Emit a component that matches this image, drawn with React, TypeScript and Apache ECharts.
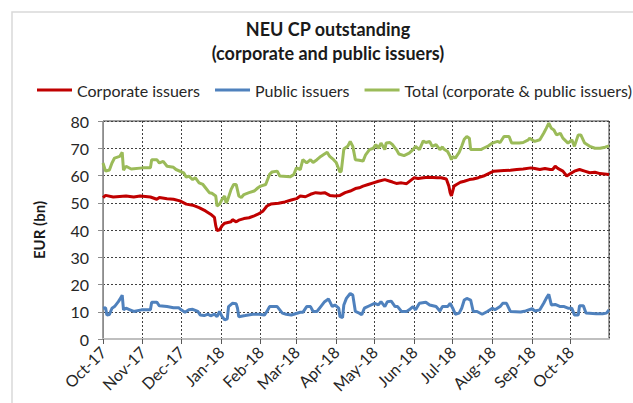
import React, { useEffect, useRef } from 'react';
import * as echarts from 'echarts';

const titleLines = ['NEU CP outstanding', '(corporate and public issuers)'];
const seriesNames = ['Corporate issuers', 'Public issuers', 'Total (corporate & public issuers)'];
const seriesColors = ['#C00000', '#4F81BD', '#9BBB59'];
const monthAbbr = ['Jan', 'Feb', 'Mar', 'Apr', 'May', 'Jun', 'Jul', 'Aug', 'Sep', 'Oct', 'Nov', 'Dec'];
const yAxisName = 'EUR (bn)';
const xMin = '2017-10-01';
const xMax = '2018-10-31';
const yMin = 0;
const yMax = 80;
const yStep = 10;

const corporate: [string, number][] = [
  ['2017-10-01', 51.9], ['2017-10-03', 52.7], ['2017-10-09', 52.1], ['2017-10-19', 52.5], ['2017-10-25', 52.1],
  ['2017-10-30', 52.5], ['2017-11-07', 52.1], ['2017-11-12', 51.3], ['2017-11-14', 51.9], ['2017-11-20', 51.5],
  ['2017-11-25', 51.3], ['2017-11-30', 50.7], ['2017-12-05', 49.5], ['2017-12-10', 49.1], ['2017-12-15', 48.2],
  ['2017-12-20', 47.0], ['2017-12-24', 45.8], ['2017-12-27', 44.6], ['2017-12-28', 41.6], ['2017-12-29', 39.8],
  ['2017-12-31', 40.1], ['2018-01-02', 41.6], ['2018-01-04', 42.5], ['2018-01-09', 43.0], ['2018-01-10', 43.8],
  ['2018-01-13', 43.0], ['2018-01-15', 43.6], ['2018-01-19', 44.2], ['2018-01-23', 44.5], ['2018-01-27', 45.2],
  ['2018-01-30', 45.8], ['2018-02-03', 47.0], ['2018-02-06', 48.8], ['2018-02-09', 49.5], ['2018-02-15', 49.8],
  ['2018-02-20', 50.3], ['2018-02-25', 51.0], ['2018-03-01', 51.5], ['2018-03-04', 52.5], ['2018-03-08', 52.2],
  ['2018-03-12', 53.1], ['2018-03-16', 53.7], ['2018-03-20', 53.5], ['2018-03-23', 53.7], ['2018-03-27', 52.7],
  ['2018-03-31', 52.5], ['2018-04-04', 52.7], ['2018-04-08', 53.7], ['2018-04-12', 54.3], ['2018-04-16', 55.2],
  ['2018-04-19', 55.5], ['2018-04-22', 56.1], ['2018-04-26', 56.7], ['2018-04-30', 57.3], ['2018-05-04', 57.9],
  ['2018-05-09', 58.5], ['2018-05-13', 57.9], ['2018-05-15', 57.6], ['2018-05-18', 57.1], ['2018-05-22', 57.3],
  ['2018-05-26', 57.0], ['2018-05-30', 58.5], ['2018-06-01', 59.2], ['2018-06-04', 58.9], ['2018-06-08', 59.2],
  ['2018-06-12', 59.4], ['2018-06-19', 59.2], ['2018-06-22', 59.2], ['2018-06-26', 58.7], ['2018-06-28', 56.1],
  ['2018-06-29', 53.7], ['2018-06-30', 52.5], ['2018-07-01', 54.3], ['2018-07-02', 56.1], ['2018-07-04', 56.7],
  ['2018-07-07', 57.5], ['2018-07-10', 57.9], ['2018-07-14', 58.5], ['2018-07-17', 58.7], ['2018-07-21', 59.2],
  ['2018-07-25', 59.8], ['2018-07-29', 60.7], ['2018-08-02', 61.6], ['2018-08-10', 61.8], ['2018-08-15', 61.9],
  ['2018-08-20', 62.2], ['2018-08-25', 62.4], ['2018-08-31', 62.8], ['2018-09-03', 62.6], ['2018-09-07', 62.2],
  ['2018-09-11', 62.6], ['2018-09-15', 62.2], ['2018-09-17', 62.2], ['2018-09-19', 63.4], ['2018-09-21', 62.6],
  ['2018-09-25', 61.6], ['2018-09-28', 59.8], ['2018-10-01', 60.7], ['2018-10-04', 61.6], ['2018-10-08', 62.2],
  ['2018-10-12', 61.6], ['2018-10-16', 61.0], ['2018-10-20', 61.2], ['2018-10-24', 60.7], ['2018-10-31', 60.4],
];

const publicIssuers: [string, number][] = [
  ['2017-10-01', 11.3], ['2017-10-03', 11.5], ['2017-10-04', 8.8], ['2017-10-06', 9.0], ['2017-10-08', 11.3],
  ['2017-10-10', 11.9], ['2017-10-13', 13.7], ['2017-10-15', 15.2], ['2017-10-16', 16.1], ['2017-10-17', 10.7],
  ['2017-10-19', 11.3], ['2017-10-22', 10.7], ['2017-10-25', 10.1], ['2017-10-31', 10.7], ['2017-11-07', 10.7],
  ['2017-11-08', 13.5], ['2017-11-12', 13.5], ['2017-11-14', 12.2], ['2017-11-20', 11.9], ['2017-11-25', 11.5],
  ['2017-11-29', 11.5], ['2017-12-01', 10.7], ['2017-12-04', 9.8], ['2017-12-07', 10.7], ['2017-12-10', 10.9],
  ['2017-12-14', 10.1], ['2017-12-16', 8.8], ['2017-12-19', 8.6], ['2017-12-22', 9.1], ['2017-12-24', 8.5],
  ['2017-12-27', 9.1], ['2017-12-29', 8.2], ['2017-12-31', 10.1], ['2018-01-01', 9.1], ['2018-01-02', 8.2],
  ['2018-01-04', 7.0], ['2018-01-06', 7.4], ['2018-01-07', 11.9], ['2018-01-10', 13.1], ['2018-01-13', 12.9],
  ['2018-01-14', 11.3], ['2018-01-15', 8.2], ['2018-01-20', 8.6], ['2018-01-26', 9.1], ['2018-01-31', 9.1],
  ['2018-02-04', 8.8], ['2018-02-06', 10.1], ['2018-02-08', 11.9], ['2018-02-14', 11.9], ['2018-02-18', 9.5],
  ['2018-02-21', 9.1], ['2018-02-25', 8.8], ['2018-03-04', 9.8], ['2018-03-06', 9.8], ['2018-03-09', 11.9],
  ['2018-03-12', 11.9], ['2018-03-14', 10.1], ['2018-03-17', 10.1], ['2018-03-20', 11.9], ['2018-03-23', 13.7],
  ['2018-03-26', 14.7], ['2018-03-29', 11.9], ['2018-03-31', 12.5], ['2018-04-03', 11.3], ['2018-04-04', 8.2],
  ['2018-04-06', 7.9], ['2018-04-07', 12.5], ['2018-04-09', 14.9], ['2018-04-12', 16.7], ['2018-04-14', 16.1],
  ['2018-04-16', 10.1], ['2018-04-19', 9.5], ['2018-04-21', 8.9], ['2018-04-23', 11.3], ['2018-04-27', 12.2],
  ['2018-05-01', 13.1], ['2018-05-04', 12.5], ['2018-05-06', 13.7], ['2018-05-09', 11.9], ['2018-05-11', 13.7],
  ['2018-05-14', 13.9], ['2018-05-17', 11.9], ['2018-05-19', 11.9], ['2018-05-22', 10.1], ['2018-05-26', 10.1],
  ['2018-05-28', 10.7], ['2018-05-31', 11.9], ['2018-06-02', 10.7], ['2018-06-05', 13.1], ['2018-06-10', 13.5],
  ['2018-06-13', 12.5], ['2018-06-18', 11.9], ['2018-06-21', 10.3], ['2018-06-23', 11.9], ['2018-06-27', 11.9],
  ['2018-06-29', 13.1], ['2018-07-01', 11.3], ['2018-07-03', 9.1], ['2018-07-06', 9.5], ['2018-07-08', 11.3],
  ['2018-07-10', 14.3], ['2018-07-12', 14.9], ['2018-07-15', 14.3], ['2018-07-17', 10.1], ['2018-07-20', 10.1],
  ['2018-07-24', 9.1], ['2018-07-28', 10.1], ['2018-08-01', 11.3], ['2018-08-03', 10.7], ['2018-08-07', 11.9],
  ['2018-08-09', 13.1], ['2018-08-12', 13.1], ['2018-08-15', 10.1], ['2018-08-23', 9.9], ['2018-08-27', 10.3],
  ['2018-09-01', 11.1], ['2018-09-03', 10.3], ['2018-09-07', 10.7], ['2018-09-10', 13.1], ['2018-09-12', 14.9],
  ['2018-09-14', 16.4], ['2018-09-16', 12.5], ['2018-09-19', 12.7], ['2018-09-23', 11.9], ['2018-09-26', 11.9],
  ['2018-09-29', 11.3], ['2018-10-02', 11.3], ['2018-10-04', 8.8], ['2018-10-07', 8.8], ['2018-10-08', 12.2],
  ['2018-10-11', 12.2], ['2018-10-13', 9.5], ['2018-10-21', 9.3], ['2018-10-26', 9.3], ['2018-10-29', 9.5],
  ['2018-10-31', 10.7],
];

const total: [string, number][] = [
  ['2017-10-01', 64.6], ['2017-10-03', 61.6], ['2017-10-06', 62.0], ['2017-10-08', 64.6], ['2017-10-10', 66.4],
  ['2017-10-14', 67.0], ['2017-10-16', 68.5], ['2017-10-17', 62.0], ['2017-10-19', 63.4], ['2017-10-23', 62.4],
  ['2017-11-01', 62.8], ['2017-11-07', 62.8], ['2017-11-08', 65.8], ['2017-11-12', 65.8], ['2017-11-14', 64.6],
  ['2017-11-17', 65.2], ['2017-11-20', 63.4], ['2017-11-25', 63.0], ['2017-11-27', 62.2], ['2017-12-03', 61.0],
  ['2017-12-05', 59.4], ['2017-12-07', 59.8], ['2017-12-10', 58.5], ['2017-12-12', 59.2], ['2017-12-15', 57.3],
  ['2017-12-18', 56.7], ['2017-12-20', 55.5], ['2017-12-23', 53.7], ['2017-12-25', 53.5], ['2017-12-28', 52.5],
  ['2017-12-29', 48.8], ['2017-12-31', 49.5], ['2018-01-02', 51.3], ['2018-01-04', 52.5], ['2018-01-05', 50.0],
  ['2018-01-06', 50.6], ['2018-01-09', 54.9], ['2018-01-11', 56.7], ['2018-01-13', 56.7], ['2018-01-15', 52.5],
  ['2018-01-17', 51.9], ['2018-01-19', 53.0], ['2018-01-23', 53.7], ['2018-01-27', 54.3], ['2018-01-30', 55.5],
  ['2018-02-01', 56.1], ['2018-02-05', 56.7], ['2018-02-08', 60.4], ['2018-02-10', 61.3], ['2018-02-14', 61.6],
  ['2018-02-16', 59.8], ['2018-02-24', 59.5], ['2018-02-27', 60.4], ['2018-03-01', 62.8], ['2018-03-04', 62.2],
  ['2018-03-06', 65.8], ['2018-03-09', 64.6], ['2018-03-12', 65.8], ['2018-03-14', 64.8], ['2018-03-17', 65.8],
  ['2018-03-20', 67.0], ['2018-03-22', 67.6], ['2018-03-25', 68.5], ['2018-03-27', 67.0], ['2018-03-30', 65.8],
  ['2018-04-01', 64.8], ['2018-04-04', 61.2], ['2018-04-05', 61.6], ['2018-04-07', 69.7], ['2018-04-10', 70.7],
  ['2018-04-12', 72.5], ['2018-04-14', 70.7], ['2018-04-16', 65.8], ['2018-04-19', 65.6], ['2018-04-22', 65.3],
  ['2018-04-24', 67.6], ['2018-04-27', 69.5], ['2018-04-30', 70.0], ['2018-05-02', 71.3], ['2018-05-04', 70.0],
  ['2018-05-06', 71.9], ['2018-05-09', 69.5], ['2018-05-10', 71.9], ['2018-05-13', 72.1], ['2018-05-15', 71.3],
  ['2018-05-18', 69.5], ['2018-05-20', 67.9], ['2018-05-24', 67.3], ['2018-05-28', 68.2], ['2018-05-31', 69.5],
  ['2018-06-02', 70.7], ['2018-06-05', 69.5], ['2018-06-08', 72.7], ['2018-06-10', 72.1], ['2018-06-13', 72.5],
  ['2018-06-15', 70.7], ['2018-06-18', 71.3], ['2018-06-21', 69.5], ['2018-06-23', 70.5], ['2018-06-24', 69.7],
  ['2018-06-27', 68.8], ['2018-06-29', 67.0], ['2018-06-30', 65.8], ['2018-07-01', 67.0], ['2018-07-03', 66.4],
  ['2018-07-06', 68.5], ['2018-07-08', 70.7], ['2018-07-10', 73.3], ['2018-07-12', 74.3], ['2018-07-14', 73.7],
  ['2018-07-15', 69.5], ['2018-07-23', 69.5], ['2018-07-25', 70.0], ['2018-07-29', 70.9], ['2018-08-01', 71.9],
  ['2018-08-05', 72.5], ['2018-08-07', 72.1], ['2018-08-10', 74.3], ['2018-08-14', 74.3], ['2018-08-16', 71.9],
  ['2018-08-22', 71.9], ['2018-08-25', 72.1], ['2018-08-29', 73.1], ['2018-08-30', 73.7], ['2018-09-03', 72.5],
  ['2018-09-07', 73.1], ['2018-09-10', 75.5], ['2018-09-12', 77.3], ['2018-09-14', 79.2], ['2018-09-16', 77.3],
  ['2018-09-18', 76.7], ['2018-09-20', 74.9], ['2018-09-23', 75.5], ['2018-09-25', 73.7], ['2018-09-29', 71.9],
  ['2018-10-02', 73.1], ['2018-10-04', 70.7], ['2018-10-07', 74.9], ['2018-10-09', 74.9], ['2018-10-12', 71.9],
  ['2018-10-16', 70.7], ['2018-10-20', 70.0], ['2018-10-24', 70.0], ['2018-10-28', 70.4], ['2018-10-31', 70.9],
];

const FONT = 'Lato, "Noto Sans", sans-serif';
const DAY = 24 * 3600 * 1000;

export default function App() {
  const ref = useRef<HTMLDivElement>(null);

  useEffect(() => {
    if (!ref.current) return;
    const chart = echarts.init(ref.current, undefined, { renderer: 'svg' });
    const dataSets = [corporate, publicIssuers, total];

    chart.setOption({
      animation: false,
      backgroundColor: '#ffffff',
      textStyle: { fontFamily: FONT },
      graphic: [
        {
          type: 'rect',
          shape: { x: 12, y: 12, width: 660, height: 440 },
          style: { fill: 'none', stroke: '#D9D9D9', lineWidth: 1.5 },
          silent: true,
        },
        {
          type: 'text',
          x: 328,
          y: 29,
          style: {
            text: titleLines[0],
            font: `bold 18px ${FONT}`,
            fill: '#1a1a1a',
            align: 'center',
            verticalAlign: 'middle',
          },
        },
        {
          type: 'text',
          x: 328,
          y: 53,
          style: {
            text: titleLines[1],
            font: `bold 18px ${FONT}`,
            fill: '#1a1a1a',
            align: 'center',
            verticalAlign: 'middle',
          },
        },
      ],
      legend: {
        left: 37,
        top: 82,
        width: 700,
        icon: 'rect',
        itemWidth: 35,
        itemHeight: 3,
        itemGap: 15,
        padding: 0,
        textStyle: { fontSize: 16, color: '#262626', fontFamily: FONT },
        data: seriesNames,
      },
      grid: {
        left: 103,
        right: 24,
        top: 121,
        bottom: 64,
        show: true,
        borderColor: '#404040',
        borderWidth: 1,
        backgroundColor: 'transparent',
      },
      xAxis: {
        type: 'time',
        min: xMin,
        max: xMax,
        splitNumber: 13,
        minInterval: 28 * DAY,
        maxInterval: 31 * DAY,
        axisLine: { show: true, lineStyle: { color: '#BFBFBF', width: 2 } },
        axisTick: { show: true, length: 5, lineStyle: { color: '#595959' } },
        splitLine: { show: true, lineStyle: { color: '#404040', type: [2, 2], width: 1 } },
        axisLabel: {
          rotate: 45,
          fontSize: 16,
          color: '#262626',
          fontFamily: FONT,
          margin: 10,
          hideOverlap: false,
          formatter: (value: number) => {
            const d = new Date(value);
            if (d.getDate() !== 1) return '';
            return `${monthAbbr[d.getMonth()]}-${String(d.getFullYear()).slice(2)}`;
          },
        },
      },
      yAxis: {
        type: 'value',
        min: yMin,
        max: yMax,
        interval: yStep,
        name: yAxisName,
        nameLocation: 'middle',
        nameGap: 57,
        nameTextStyle: { fontSize: 15, fontWeight: 'bold', color: '#1a1a1a', fontFamily: FONT },
        axisLine: { show: true, lineStyle: { color: '#8C8C8C' } },
        axisTick: { show: true, length: 5, lineStyle: { color: '#8C8C8C' } },
        splitLine: { show: true, lineStyle: { color: '#404040', type: [2, 2], width: 1 } },
        axisLabel: { fontSize: 16, color: '#262626', fontFamily: FONT, margin: 14 },
      },
      series: seriesNames.map((name, i) => ({
        name,
        type: 'line',
        data: dataSets[i],
        showSymbol: false,
        symbol: 'none',
        color: seriesColors[i],
        lineStyle: { color: seriesColors[i], width: 3 },
        itemStyle: { color: seriesColors[i] },
      })),
    });

    return () => chart.dispose();
  }, []);

  return (
    <div
      ref={ref}
      style={{ position: 'absolute', left: 0, top: 0, width: 633, height: 403 }}
    />
  );
}
